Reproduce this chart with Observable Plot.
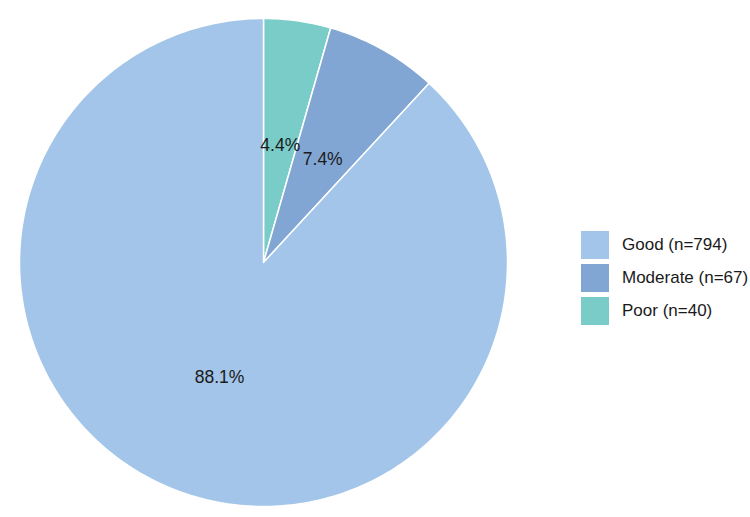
<!DOCTYPE html>
<html><head><meta charset="utf-8">
<script src="https://cdn.jsdelivr.net/npm/d3@7"></script>
<script src="https://cdn.jsdelivr.net/npm/@observablehq/plot@0.6"></script>
<style>
body{margin:0;background:#fff;font-family:"Liberation Sans",Arial,sans-serif;}
#wrap{position:relative;width:750px;height:517px;}
#legend{position:absolute;left:581px;top:228px;font-size:17px;color:#1a1a1a;}
.item{display:flex;align-items:center;height:33px;}
.sw{width:28px;height:28px;margin-right:13px;}
</style></head><body><div id="wrap"></div><script>
const categories = ["Good", "Moderate", "Poor"];
const counts = [794, 67, 40];
const percentLabels = ["88.1%", "7.4%", "4.4%"];
const legendLabels = ["Good (n=794)", "Moderate (n=67)", "Poor (n=40)"];
const colors = ["#a3c5e9", "#82a6d3", "#7accc8"];
const sliceOrder = ["Poor", "Moderate", "Good"]; // clockwise from 12 o'clock

const total = d3.sum(counts);
const slices = [];
let start = 0;
for (const cat of sliceOrder) {
  const i = categories.indexOf(cat);
  const frac = counts[i] / total;
  slices.push({cat, start, end: start + frac, label: percentLabels[i]});
  start += frac;
}
function pt(f, r) { const a = f * 2 * Math.PI; return [r * Math.sin(a), r * Math.cos(a)]; }
const features = slices.map(s => {
  const n = Math.max(2, Math.ceil((s.end - s.start) * 360));
  const ring = [[0, 0]];
  for (let k = 0; k <= n; k++) ring.push(pt(s.start + (s.end - s.start) * k / n, 1));
  ring.push([0, 0]);
  return {type: "Feature", properties: {cat: s.cat}, geometry: {type: "Polygon", coordinates: [ring]}};
});
const labels = slices.map(s => { const p = pt((s.start + s.end) / 2, 0.495); return {x: p[0], y: p[1], label: s.label}; });

const chart = Plot.plot({
  width: 750, height: 517,
  marginLeft: 19, marginTop: 18, marginRight: 243, marginBottom: 11,
  projection: {type: "reflect-y", domain: {type: "MultiPoint", coordinates: [[-1, -1], [1, 1]]}},
  color: {domain: categories, range: colors},
  style: {fontFamily: "'Liberation Sans', Arial, sans-serif", background: "#fff"},
  marks: [
    Plot.geo(features, {fill: d => d.properties.cat, stroke: "#fff", strokeWidth: 1.5}),
    Plot.text(labels, {x: "x", y: "y", text: "label", fontSize: 17.5, fill: "#1a1a1a", dy: 2})
  ]
});
const wrap = document.getElementById("wrap");
wrap.appendChild(chart);
const leg = document.createElement("div");
leg.id = "legend";
categories.forEach((c, i) => {
  const it = document.createElement("div"); it.className = "item";
  const sw = document.createElement("div"); sw.className = "sw"; sw.style.background = colors[i];
  const t = document.createElement("span"); t.textContent = legendLabels[i];
  it.appendChild(sw); it.appendChild(t); leg.appendChild(it);
});
wrap.appendChild(leg);
</script></body></html>
